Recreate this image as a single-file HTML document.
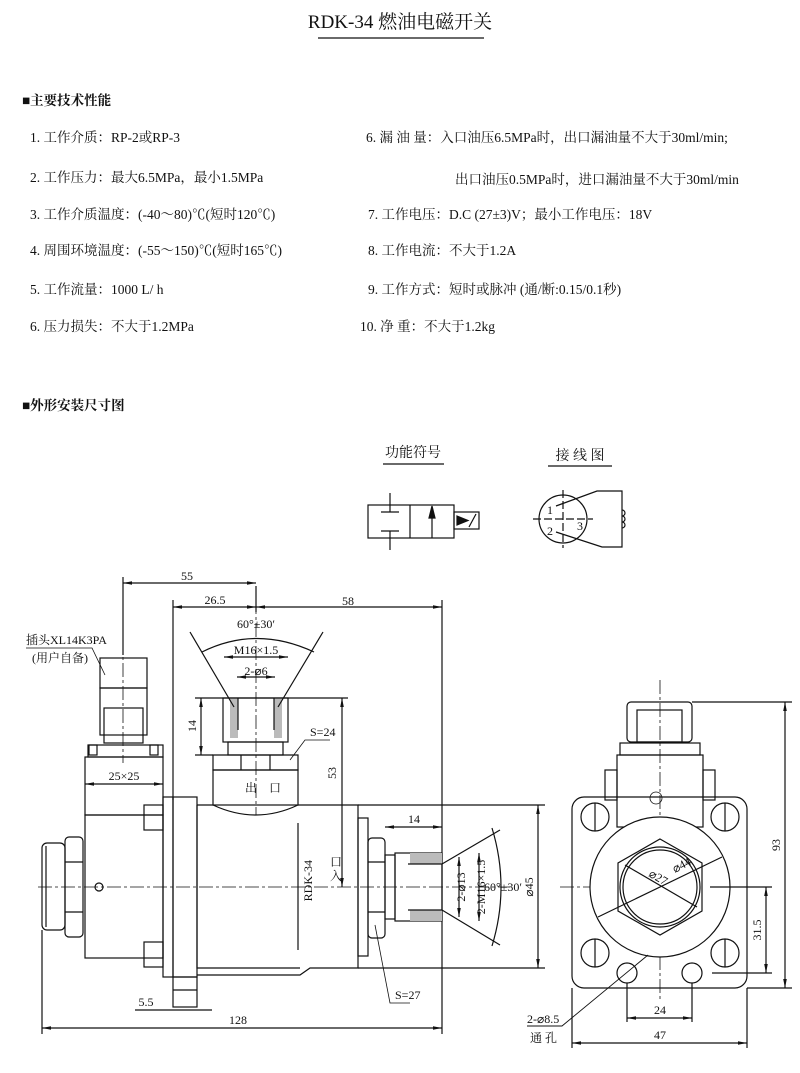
<!DOCTYPE html>
<html><head><meta charset="utf-8"><style>
body{margin:0;background:#fff}
svg{display:block}
text{font-family:"Liberation Serif","Noto Serif CJK SC","Noto Sans CJK SC",serif;fill:#111}
.t{font-size:13.5px}
.s{font-size:12px}
.d{marker-start:url(#a);marker-end:url(#a)}
</style></head><body>
<svg width="800" height="1073" viewBox="0 0 800 1073" xmlns="http://www.w3.org/2000/svg">
<defs><marker id="a" viewBox="0 0 10 4" refX="10" refY="2" markerWidth="9" markerHeight="4" orient="auto-start-reverse" markerUnits="userSpaceOnUse"><path d="M0,0 L10,2 L0,4 Z" fill="#111"/></marker></defs>
<g>
<text x="400" y="28" font-size="19" text-anchor="middle">RDK-34 燃油电磁开关</text>
<line x1="318" y1="38" x2="484" y2="38" stroke="#111" stroke-width="1.2"/>
<text x="22" y="105" font-size="13.5" font-weight="bold" font-family="'Noto Sans CJK SC',sans-serif">■主要技术性能</text>
<g class="t">
<text x="30" y="142">1. 工作介质：RP-2或RP-3</text>
<text x="30" y="182">2. 工作压力：最大6.5MPa，最小1.5MPa</text>
<text x="30" y="219">3. 工作介质温度：(-40～80)℃(短时120℃)</text>
<text x="30" y="255">4. 周围环境温度：(-55～150)℃(短时165℃)</text>
<text x="30" y="294">5. 工作流量：1000 L/ h</text>
<text x="30" y="331">6. 压力损失：不大于1.2MPa</text>
<text x="366" y="142">6.  漏 油 量：入口油压6.5MPa时，出口漏油量不大于30ml/min;</text>
<text x="455" y="184">出口油压0.5MPa时，进口漏油量不大于30ml/min</text>
<text x="368" y="219">7.   工作电压：D.C (27±3)V；最小工作电压：18V</text>
<text x="368" y="255">8.   工作电流：不大于1.2A</text>
<text x="368" y="294">9.   工作方式：短时或脉冲 (通/断:0.15/0.1秒)</text>
<text x="360" y="331">10.   净    重：不大于1.2kg</text>
</g>
<text x="22" y="410" font-size="13.5" font-weight="bold" font-family="'Noto Sans CJK SC',sans-serif">■外形安装尺寸图</text>
</g>

<!-- symbols -->
<g stroke="#111" fill="none" stroke-width="1.2">
<text x="413" y="457" font-size="14" stroke="none" text-anchor="middle">功能符号</text>
<line x1="383" y1="464" x2="444" y2="464"/>
<text x="580" y="460" font-size="14" stroke="none" text-anchor="middle">接 线 图</text>
<line x1="548" y1="466" x2="612" y2="466"/>
<rect x="368" y="505" width="86" height="33"/>
<line x1="410" y1="505" x2="410" y2="538"/>
<line x1="390" y1="493" x2="390" y2="512"/><line x1="381" y1="512" x2="399" y2="512"/>
<line x1="390" y1="531" x2="390" y2="550"/><line x1="381" y1="531" x2="399" y2="531"/>
<line x1="432" y1="538" x2="432" y2="511"/>
<polygon points="429,518 432,506 435,518" fill="#111"/>
<rect x="454" y="512" width="25" height="17"/>
<polygon points="457,516 468,520.5 457,525" fill="#111"/>
<line x1="469" y1="527" x2="476" y2="514"/>
<circle cx="563" cy="519" r="24"/>
<line x1="533" y1="519" x2="593" y2="519" stroke-dasharray="8,3"/>
<line x1="563" y1="490" x2="563" y2="548" stroke-dasharray="8,3"/>
<polyline points="556,506 597,491 622,491 622,547 602,547 556,532"/>
<path d="M622,510 a3,3 0 0 1 0,6 a3,3 0 0 1 0,6 a3,3 0 0 1 0,6" />
<text x="547" y="514" font-size="12" stroke="none">1</text>
<text x="547" y="535" font-size="12" stroke="none">2</text>
<text x="577" y="530" font-size="12" stroke="none">3</text>
</g>

<!-- main drawing -->
<g stroke="#111" fill="none" stroke-width="1.2">
<line x1="38" y1="887" x2="510" y2="887" stroke-width="0.8" stroke-dasharray="14,3,3,3"/>
<line x1="256" y1="600" x2="256" y2="815" stroke-width="0.8" stroke-dasharray="14,3,3,3"/>
<line x1="123" y1="640" x2="123" y2="763" stroke-width="0.8" stroke-dasharray="14,3,3,3"/>
<line x1="123" y1="577" x2="123" y2="655"/>
<line x1="42" y1="930" x2="42" y2="1034"/>
<line x1="173" y1="600" x2="173" y2="800"/>
<line x1="442" y1="600" x2="442" y2="1034"/>
<line x1="256" y1="586" x2="256" y2="612"/>
<line class="d" x1="123" y1="583" x2="256" y2="583"/>
<text x="187" y="580" class="s" stroke="none" text-anchor="middle">55</text>
<line class="d" x1="173" y1="607" x2="256" y2="607"/>
<line class="d" x1="256" y1="607" x2="442" y2="607"/>
<text x="215" y="604" class="s" stroke="none" text-anchor="middle">26.5</text>
<text x="348" y="605" class="s" stroke="none" text-anchor="middle">58</text>
<line class="d" x1="42" y1="1028" x2="442" y2="1028"/>
<text x="238" y="1024" class="s" stroke="none" text-anchor="middle">128</text>
<line x1="135" y1="1010" x2="212" y2="1010"/>
<text x="146" y="1006" class="s" stroke="none" text-anchor="middle">5.5</text>
<text x="26" y="644" class="s" stroke="none">插头XL14K3PA</text>
<text x="32" y="662" class="s" stroke="none">(用户自备)</text>
<polyline points="26,648 92,648 105,675" stroke-width="0.8"/>
<rect x="100" y="658" width="47" height="30"/>
<rect x="100" y="688" width="47" height="47"/>
<rect x="104" y="708" width="39" height="35"/>
<rect x="88" y="745" width="75" height="12"/>
<rect x="89" y="745" width="8" height="10"/><rect x="150" y="745" width="8" height="10"/>
<rect x="85" y="757" width="78" height="58"/>
<line class="d" x1="85" y1="784" x2="163" y2="784"/>
<text x="124" y="780" class="s" stroke="none" text-anchor="middle">25×25</text>
<rect x="85" y="815" width="78" height="143"/>
<rect x="144" y="805" width="19" height="25"/>
<rect x="144" y="942" width="19" height="25"/>
<circle cx="99" cy="887" r="4"/>
<rect x="65" y="837" width="18" height="100" rx="4"/>
<line x1="65" y1="862" x2="83" y2="862"/><line x1="65" y1="912" x2="83" y2="912"/>
<rect x="42" y="843" width="23" height="87" rx="5"/>
<line x1="46" y1="846" x2="46" y2="927"/>
<rect x="163" y="797" width="10" height="180"/>
<rect x="173" y="797" width="24" height="180"/>
<rect x="173" y="977" width="24" height="30"/>
<line x1="173" y1="990" x2="197" y2="990"/>
<path d="M197,805 L213,805 M298,805 L358,805 L358,968 L310,968 L300,975 L197,975"/>
<path d="M197,805 L197,968 L300,968"/>
<path d="M213,805 Q256,825 298,805"/>
<line x1="298" y1="823" x2="298" y2="950"/>
<text x="312" y="860" class="s" stroke="none" transform="rotate(-90 312 860)" text-anchor="end">RDK-34</text>
<text x="330" y="880" class="s" stroke="none">入</text>
<text x="330" y="866" class="s" stroke="none">口</text>
<rect x="213" y="770" width="85" height="35"/>
<text x="245" y="792" class="s" stroke="none">出</text>
<text x="269" y="792" class="s" stroke="none">口</text>
<path d="M213,755 L298,755 L298,770 L213,770 Z"/>
<line x1="241" y1="755" x2="241" y2="770"/><line x1="270" y1="755" x2="270" y2="770"/>
<rect x="228" y="742" width="55" height="13"/>
<rect x="223" y="698" width="65" height="44"/>
<rect x="230" y="698" width="8" height="40" fill="#bbb" stroke="none"/>
<rect x="274" y="698" width="8" height="40" fill="#bbb" stroke="none"/>
<line x1="238" y1="698" x2="238" y2="730"/><line x1="274" y1="698" x2="274" y2="730"/>
<line x1="190" y1="632" x2="234" y2="707"/>
<line x1="323" y1="632" x2="278" y2="707"/>
<path d="M202,652 Q256,625 314,652"/>
<text x="256" y="628" class="s" stroke="none" text-anchor="middle">60°±30′</text>
<line class="d" x1="224" y1="657" x2="288" y2="657"/>
<text x="256" y="654" class="s" stroke="none" text-anchor="middle">M16×1.5</text>
<line class="d" x1="237" y1="677" x2="275" y2="677"/>
<text x="256" y="675" class="s" stroke="none" text-anchor="middle">2-⌀6</text>
<line x1="195" y1="698" x2="348" y2="698"/>
<line x1="195" y1="755" x2="213" y2="755"/>
<line class="d" x1="201" y1="698" x2="201" y2="755"/>
<text x="196" y="726" class="s" stroke="none" transform="rotate(-90 196 726)" text-anchor="middle">14</text>
<line class="d" x1="342" y1="698" x2="342" y2="887"/>
<text x="336" y="773" class="s" stroke="none" transform="rotate(-90 336 773)" text-anchor="middle">53</text>
<polyline points="290,760 305,740 330,740" stroke-width="0.8"/>
<text x="310" y="736" class="s" stroke="none">S=24</text>
<rect x="358" y="818" width="10" height="138"/>
<rect x="368" y="838" width="17" height="100" rx="4"/>
<line x1="368" y1="862" x2="385" y2="862"/><line x1="368" y1="912" x2="385" y2="912"/>
<rect x="385" y="855" width="10" height="64"/>
<rect x="395" y="853" width="47" height="68"/>
<rect x="410" y="853" width="32" height="11" fill="#bbb" stroke="none"/>
<rect x="410" y="910" width="32" height="11" fill="#bbb" stroke="none"/>
<line x1="408" y1="864" x2="442" y2="864"/><line x1="408" y1="910" x2="442" y2="910"/>
<line x1="442" y1="864" x2="500" y2="830"/>
<line x1="442" y1="910" x2="500" y2="945"/>
<path d="M492,828 Q510,887 492,946"/>
<line class="d" x1="385" y1="827" x2="442" y2="827"/>
<text x="414" y="823" class="s" stroke="none" text-anchor="middle">14</text>
<line class="d" x1="459" y1="857" x2="459" y2="917"/>
<line class="d" x1="479" y1="853" x2="479" y2="921"/>
<text x="465" y="887" class="s" stroke="none" transform="rotate(-90 465 887)" text-anchor="middle">2-⌀13</text>
<text x="485" y="887" class="s" stroke="none" transform="rotate(-90 485 887)" text-anchor="middle">2-M16×1.5</text>
<text x="484" y="891" class="s" stroke="none">60°±30′</text>
<polyline points="375,925 390,1003 410,1003" stroke-width="0.8"/>
<text x="395" y="999" class="s" stroke="none">S=27</text>
<line x1="358" y1="805" x2="545" y2="805"/>
<line x1="358" y1="968" x2="545" y2="968"/>
<line class="d" x1="538" y1="805" x2="538" y2="968"/>
<text x="533" y="887" class="s" stroke="none" transform="rotate(-90 533 887)" text-anchor="middle">⌀45</text>
</g>

<!-- right view -->
<g stroke="#111" fill="none" stroke-width="1.2">
<line x1="660" y1="680" x2="660" y2="1000" stroke-width="0.8" stroke-dasharray="14,3,3,3"/>
<line x1="560" y1="887" x2="770" y2="887" stroke-width="0.8" stroke-dasharray="14,3,3,3"/>
<rect x="572" y="797" width="175" height="191" rx="12"/>
<rect x="605" y="770" width="12" height="30"/><rect x="703" y="770" width="12" height="30"/>
<rect x="617" y="755" width="86" height="72"/>
<rect x="620" y="743" width="80" height="12"/>
<rect x="627" y="702" width="65" height="40" rx="4"/>
<rect x="637" y="710" width="45" height="32"/>
<circle cx="656" cy="798" r="6" stroke-width="0.8"/>
<circle cx="595" cy="817" r="14"/><circle cx="725" cy="817" r="14"/>
<circle cx="595" cy="953" r="14"/><circle cx="725" cy="953" r="14"/>
<line x1="595" y1="803" x2="595" y2="831"/><line x1="725" y1="803" x2="725" y2="831"/>
<line x1="595" y1="939" x2="595" y2="967"/><line x1="725" y1="939" x2="725" y2="967"/>
<circle cx="660" cy="887" r="70" fill="#fff"/>
<polygon points="660,839 702,863 702,911 660,935 618,911 618,863"/>
<circle cx="660" cy="887" r="40"/><circle cx="660" cy="887" r="37"/>
<line x1="598" y1="917" x2="722" y2="857"/>
<line x1="625" y1="865" x2="697" y2="907"/>
<text x="648" y="876" class="s" stroke="none" transform="rotate(30 648 876)">⌀27</text>
<text x="675" y="873" class="s" stroke="none" transform="rotate(-28 675 873)">⌀44</text>
<circle cx="627" cy="973" r="10"/><circle cx="692" cy="973" r="10"/>
<line x1="627" y1="983" x2="627" y2="1022"/><line x1="692" y1="983" x2="692" y2="1022"/>
<line class="d" x1="627" y1="1018" x2="692" y2="1018"/>
<text x="660" y="1014" class="s" stroke="none" text-anchor="middle">24</text>
<line x1="572" y1="988" x2="572" y2="1048"/><line x1="747" y1="988" x2="747" y2="1048"/>
<line class="d" x1="572" y1="1043" x2="747" y2="1043"/>
<text x="660" y="1039" class="s" stroke="none" text-anchor="middle">47</text>
<line x1="692" y1="702" x2="792" y2="702"/>
<line x1="747" y1="988" x2="792" y2="988"/>
<line class="d" x1="785" y1="702" x2="785" y2="988"/>
<text x="780" y="845" class="s" stroke="none" transform="rotate(-90 780 845)" text-anchor="middle">93</text>
<line x1="710" y1="887" x2="772" y2="887"/>
<line x1="712" y1="973" x2="772" y2="973"/>
<line class="d" x1="766" y1="887" x2="766" y2="973"/>
<text x="761" y="930" class="s" stroke="none" transform="rotate(-90 761 930)" text-anchor="middle">31.5</text>
<polyline points="527,1026 562,1026 648,955" stroke-width="0.9"/>
<text x="527" y="1023" class="s" stroke="none">2-⌀8.5</text>
<text x="530" y="1042" class="s" stroke="none">通 孔</text>
</g>
</svg>
</body></html>
